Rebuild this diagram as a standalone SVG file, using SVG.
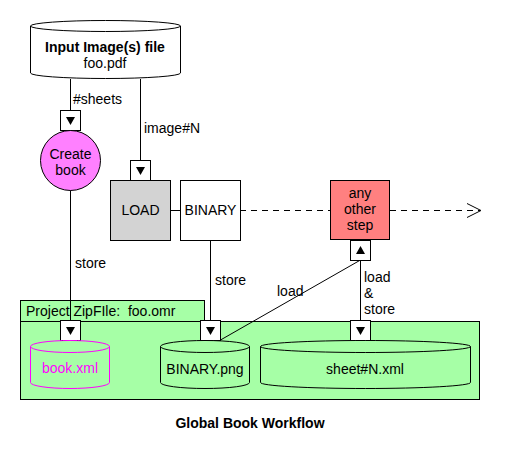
<svg xmlns="http://www.w3.org/2000/svg" width="520" height="460" viewBox="0 0 520 460">
<style>
text{font-family:"Liberation Sans",Arial,sans-serif;font-size:14px;fill:#000}
.c{text-anchor:middle}
.b{font-weight:bold}
.ln{stroke:#000;stroke-width:1;fill:none}
.dash{stroke:#000;stroke-width:1;fill:none;stroke-dasharray:6 5}
.port{fill:#fff;stroke:#000;stroke-width:1}
.tri{fill:#000}
.cyl{stroke:#000;stroke-width:1}
</style>
<rect width="520" height="460" fill="#fff"/>

<g id="project">
<rect x="20.5" y="300.5" width="184" height="21" fill="#a6ffa6" stroke="#000"/>
<rect x="20.5" y="321.5" width="459" height="78" fill="#a6ffa6" stroke="#000"/>
<text x="26" y="316" xml:space="preserve">Project ZipFIle:  foo.omr</text>
</g>

<g id="connectors">
<line class="ln" x1="70.5" y1="79" x2="70.5" y2="110"/>
<line class="ln" x1="140.5" y1="79" x2="140.5" y2="160"/>
<line class="ln" x1="70.5" y1="190" x2="70.5" y2="320"/>
<line class="ln" x1="170" y1="210.5" x2="180" y2="210.5"/>
<line class="ln" x1="210.5" y1="240" x2="210.5" y2="320"/>
<line class="dash" x1="240" y1="210.5" x2="330" y2="210.5"/>
<line class="dash" x1="390" y1="210.5" x2="480" y2="210.5"/>
<polyline class="ln" points="467,203.5 481,210.5 467,217.5"/>
<line class="ln" x1="360.5" y1="260" x2="360.5" y2="320"/>
<line class="ln" x1="360.5" y1="260" x2="220.5" y2="340"/>
<text x="73" y="104">#sheets</text>
<text x="144" y="133">image#N</text>
<text x="75" y="268">store</text>
<text x="215" y="285">store</text>
<text x="277" y="296">load</text>
<text x="364" y="282">load</text>
<text x="364" y="298">&amp;</text>
<text x="364" y="314">store</text>
</g>

<g id="input">
<path class="cyl" fill="#fff" d="M30.5,26 A75,5.5 0 0 1 180.5,26 L180.5,73 A75,5.5 0 0 1 30.5,73 Z"/>
<path class="cyl" fill="none" d="M30.5,26 A75,5.5 0 0 0 180.5,26"/>
<text class="c b" x="105" y="52">Input Image(s) file</text>
<text class="c" x="105" y="68">foo.pdf</text>
</g>

<g id="port-sheets">
<rect class="port" x="60.5" y="110.5" width="20" height="20"/>
<polygon class="tri" points="66,117 75,117 70.5,125"/>
</g>

<g id="create-book">
<circle cx="70.5" cy="160.5" r="30" fill="#ff80ff" stroke="#000"/>
<text class="c" x="70.5" y="159">Create</text>
<text class="c" x="70.5" y="175">book</text>
</g>

<g id="port-load">
<rect class="port" x="130.5" y="160.5" width="20" height="20"/>
<polygon class="tri" points="136,167 145,167 140.5,175"/>
</g>

<g id="load">
<rect x="110.5" y="180.5" width="60" height="60" fill="#d3d3d3" stroke="#000"/>
<text class="c" x="140.5" y="215">LOAD</text>
</g>

<g id="binary">
<rect x="180.5" y="180.5" width="60" height="60" fill="#fff" stroke="#000"/>
<text class="c" x="210.5" y="215">BINARY</text>
</g>

<g id="other-step">
<rect x="330.5" y="180.5" width="59" height="59" fill="#ff8080" stroke="#000"/>
<text class="c" x="360" y="198">any</text>
<text class="c" x="360" y="214">other</text>
<text class="c" x="360" y="230">step</text>
</g>

<g id="port-other">
<rect class="port" x="350.5" y="240.5" width="20" height="20"/>
<polygon class="tri" points="356,254 365,254 360.5,246"/>
</g>

<g id="port-book">
<rect class="port" x="60.5" y="320.5" width="20" height="20"/>
<polygon class="tri" points="66,327 75,327 70.5,335"/>
</g>

<g id="book-xml">
<path fill="none" stroke="#ff00ff" d="M30.5,346.5 A39.5,6 0 0 1 109.5,346.5 L109.5,382.5 A39.5,6 0 0 1 30.5,382.5 Z"/>
<path fill="none" stroke="#ff00ff" d="M30.5,346.5 A39.5,6 0 0 0 109.5,346.5"/>
<text class="c" x="70" y="373" style="fill:#ff00ff">book.xml</text>
</g>

<g id="port-binary">
<rect class="port" x="200.5" y="320.5" width="20" height="20"/>
<polygon class="tri" points="206,327 215,327 210.5,335"/>
</g>

<g id="binary-png">
<path class="cyl" fill="#a6ffa6" d="M160.5,346.5 A44.5,6 0 0 1 249.5,346.5 L249.5,382.5 A44.5,6 0 0 1 160.5,382.5 Z"/>
<path class="cyl" fill="none" d="M160.5,346.5 A44.5,6 0 0 0 249.5,346.5"/>
<text class="c" x="205" y="374">BINARY.png</text>
</g>

<g id="port-sheet">
<rect class="port" x="350.5" y="320.5" width="20" height="20"/>
<polygon class="tri" points="356,327 365,327 360.5,335"/>
</g>

<g id="sheet-xml">
<path class="cyl" fill="#a6ffa6" d="M260.5,346.5 A105,6 0 0 1 470.5,346.5 L470.5,382.5 A105,6 0 0 1 260.5,382.5 Z"/>
<path class="cyl" fill="none" d="M260.5,346.5 A105,6 0 0 0 470.5,346.5"/>
<text class="c" x="365" y="374">sheet#N.xml</text>
</g>

<text class="c b" x="250" y="428">Global Book Workflow</text>
</svg>
